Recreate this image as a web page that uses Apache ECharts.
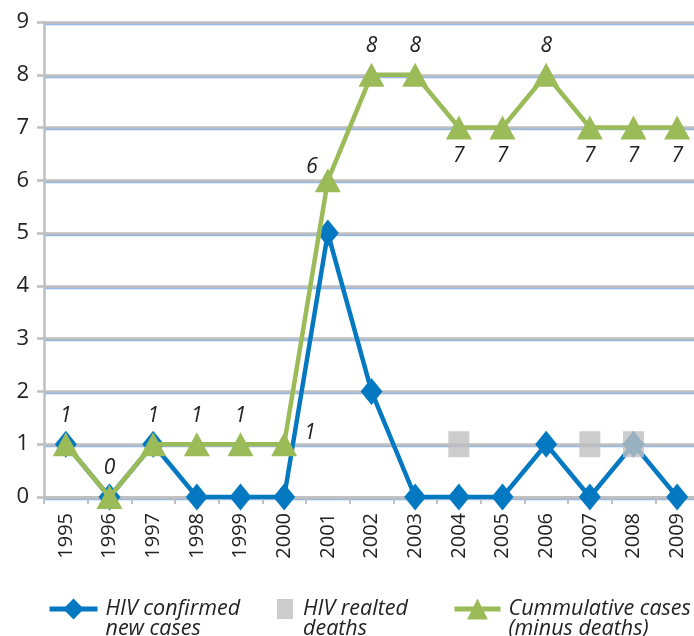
<!DOCTYPE html>
<html>
<head>
<meta charset="utf-8">
<script src="https://cdn.jsdelivr.net/npm/echarts@6/dist/echarts.min.js"></script>
<style>
  html, body { margin: 0; padding: 0; background: #fff; }
  #chart { width: 694px; height: 636px; }
</style>
</head>
<body>
<div id="chart"></div>
<script>
var years = ['1995', '1996', '1997', '1998', '1999', '2000', '2001', '2002', '2003', '2004', '2005', '2006', '2007', '2008', '2009'];
var newCases = [1, 0, 1, 0, 0, 0, 5, 2, 0, 0, 0, 1, 0, 1, 0];
var deaths = [null, null, null, null, null, null, null, null, null, 1, null, null, 1, 1, null];
var cumulative = [1, 0, 1, 1, 1, 1, 6, 8, 8, 7, 7, 8, 7, 7, 7];
var yTicks = [0, 1, 2, 3, 4, 5, 6, 7, 8, 9];

var FONT = 'Open Sans';
var BLUE = '#0479c2';
var GREEN = '#9bbb59';
var GRAY = '#bfbfbf';

// where the value label of the cumulative line sits
function labelFor(i) {
  if (i === 5) return { position: 'right', distance: 7, offset: [0, -11] };
  if (i === 6) return { position: 'left', distance: 0, offset: [3, -13] };
  if (i > 8 && cumulative[i] === 7) return { position: 'bottom', distance: 6 };
  return { position: 'top', distance: 6 };
}

var cumData = cumulative.map(function (v, i) {
  return { value: v, label: labelFor(i) };
});

var myChart = echarts.init(document.getElementById('chart'));

function legendBox(name, left, w, h, gap) {
  return {
    data: [name],
    left: left,
    top: 578,
    padding: 0,
    itemWidth: w,
    itemHeight: h,
    itemGap: 0,
    selectedMode: false,
    lineStyle: { width: 5 },
    // blank first line so the first text line sits level with the icon
    formatter: function (n) { return '\n' + n; },
    textStyle: {
      fontFamily: FONT,
      fontStyle: 'italic',
      fontSize: 21.5,
      lineHeight: 20,
      color: '#222',
      padding: [0, 0, 0, gap]
    }
  };
}

var option = {
  backgroundColor: '#fff',
  animation: false,
  grid: { left: 44, width: 655, top: 22, bottom: 139, outerBoundsMode: 'none' },
  legend: [
    legendBox('HIV confirmed\nnew cases', 47, 48, 26, 3),
    legendBox('HIV realted\ndeaths', 277, 16, 20, 5),
    legendBox('Cummulative cases\n(minus deaths)', 452, 46, 26, 3)
  ],
  xAxis: {
    type: 'category',
    data: years,
    boundaryGap: true,
    axisLine: { lineStyle: { color: GRAY, width: 2.5 } },
    axisTick: { show: true, length: 7, lineStyle: { color: GRAY, width: 2 } },
    axisLabel: {
      rotate: 90,
      margin: 16,
      fontFamily: FONT,
      fontSize: 20,
      color: '#222'
    },
    splitLine: { show: false }
  },
  yAxis: {
    type: 'value',
    min: yTicks[0],
    max: yTicks[yTicks.length - 1],
    interval: 1,
    axisLine: { show: true, lineStyle: { color: GRAY, width: 2.5 } },
    axisTick: { show: true, length: 7, lineStyle: { color: GRAY, width: 2.5 } },
    axisLabel: {
      margin: 15,
      fontFamily: FONT,
      fontSize: 22,
      color: '#222'
    },
    splitLine: {
      show: true,
      lineStyle: {
        color: GRAY,
        width: 2.5,
        shadowColor: '#95b8e3',
        shadowOffsetY: 1.5,
        shadowBlur: 0
      }
    }
  },
  series: [
    {
      name: 'HIV confirmed\nnew cases',
      type: 'line',
      data: newCases,
      symbol: 'diamond',
      symbolSize: [22, 27],
      showAllSymbol: true,
      lineStyle: { color: BLUE, width: 4.5 },
      itemStyle: { color: BLUE },
      z: 2
    },
    {
      name: 'HIV realted\ndeaths',
      type: 'scatter',
      data: deaths,
      symbol: 'rect',
      symbolSize: [21, 26],
      itemStyle: { color: GRAY },
      z: 3
    },
    {
      name: 'Cummulative cases\n(minus deaths)',
      type: 'line',
      data: cumData,
      symbol: 'triangle',
      symbolSize: [26, 24],
      showAllSymbol: true,
      lineStyle: { color: GREEN, width: 4.5 },
      itemStyle: { color: GREEN },
      label: {
        show: true,
        fontFamily: FONT,
        fontStyle: 'italic',
        fontSize: 21,
        color: '#222'
      },
      z: 4
    }
  ]
};

myChart.setOption(option);
</script>
</body>
</html>
